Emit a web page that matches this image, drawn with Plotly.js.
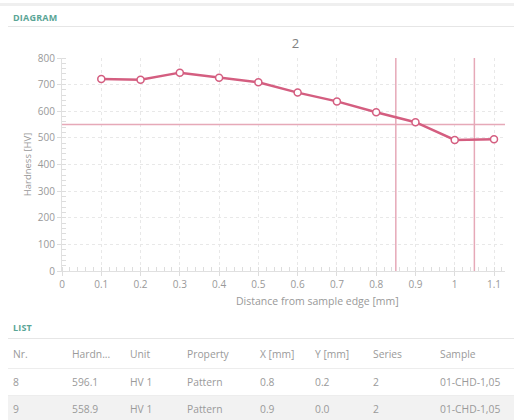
<!DOCTYPE html>
<html>
<head>
<meta charset="utf-8">
<script src="https://cdn.plot.ly/plotly-3.0.1.min.js"></script>
<style>
  html, body { margin: 0; padding: 0; background: #fff; width: 514px; height: 420px; overflow: hidden; font-family: "Open Sans", "Lato", sans-serif; }
  #chart { position: absolute; left: 0; top: 0; width: 514px; height: 420px; }
  .sec { position: absolute; left: 13px; font-size: 9px; font-weight: 700; color: #5aa596; letter-spacing: 0.2px; }
  .hr { position: absolute; left: 8px; right: 0; height: 1px; background: #e6e6e6; }
  table { position: absolute; left: 8px; top: 341px; width: 506px; border-collapse: collapse; font-size: 10.3px; color: #9a9a9a; table-layout: fixed; }
  td { box-sizing: border-box; height: 27px; padding: 0; white-space: nowrap; border-bottom: 1px solid #ededed; }
  td:first-child { padding-left: 5px; }
  tr.alt td { background: #f2f2f2; }
</style>
</head>
<body>
<div id="chart"></div>
<div class="hr" style="top:3px;height:3px;background:#efefef;left:0"></div>
<div class="sec" style="top:11px">DIAGRAM</div>
<div class="hr" style="top:26px"></div>
<div class="sec" style="top:321px">LIST</div>
<div class="hr" style="top:338px"></div>
<table id="tbl"></table>
<script>
const distance = [0.1, 0.2, 0.3, 0.4, 0.5, 0.6, 0.7, 0.8, 0.9, 1.0, 1.1];
const hardness = [721, 718, 745, 726, 709, 670, 637, 596.1, 558.9, 492, 495];
const limitHardness = 550;
const limitDistances = [0.85, 1.05];
const chartTitle = "2";
const xTitle = "Distance from sample edge [mm]";
const yTitle = "Hardness [HV]";
const tableHeader = ["Nr.", "Hardn...", "Unit", "Property", "X [mm]", "Y [mm]", "Series", "Sample"];
const tableRows = [
  ["8", "596.1", "HV 1", "Pattern", "0.8", "0.2", "2", "01-CHD-1,05"],
  ["9", "558.9", "HV 1", "Pattern", "0.9", "0.0", "2", "01-CHD-1,05"]
];
const colWidths = [64, 58, 57, 73, 55, 58, 67, 74];

const lineColor = "#d45e80";
const refColor = "#e6a9b8";
const xMax = 1.128, yMax = 800;

const traces = [
  { x: [0, xMax], y: [limitHardness, limitHardness], mode: "lines", line: { color: refColor, width: 1.5 }, hoverinfo: "skip", showlegend: false },
  ...limitDistances.map(d => ({ x: [d, d], y: [0, yMax], mode: "lines", line: { color: refColor, width: 1.5 }, hoverinfo: "skip", showlegend: false })),
  { x: distance, y: hardness, mode: "lines+markers", line: { color: lineColor, width: 2.5 },
    marker: { symbol: "circle", size: 7, color: "#fff", line: { color: lineColor, width: 1.5 } }, showlegend: false }
];

const layout = {
  width: 514, height: 420,
  margin: { l: 62, r: 9, t: 58, b: 149 },
  paper_bgcolor: "rgba(0,0,0,0)", plot_bgcolor: "#fff",
  font: { family: "'Open Sans', Lato, sans-serif", color: "#999", size: 10 },
  title: { text: chartTitle, x: 0.575, xanchor: "center", y: 1 - 43/420, yanchor: "middle", yref: "container", font: { size: 13, color: "#808080" } },
  xaxis: {
    range: [0, xMax], dtick: 0.1, tick0: 0, zeroline: false,
    showgrid: true, gridcolor: "#e8e8e8", griddash: "3px,3px", gridwidth: 1,
    showline: true, linecolor: "#e0e0e0", ticks: "outside", ticklen: 4, tickcolor: "#dddddd",
    minor: { dtick: 0.02, ticks: "inside", ticklen: 4, tickcolor: "#dddddd", showgrid: false },
    tickfont: { size: 10, color: "#999" }
  },
  yaxis: {
    range: [0, yMax], dtick: 100, zeroline: false,
    showgrid: true, gridcolor: "#e8e8e8", griddash: "3px,3px", gridwidth: 1,
    showline: true, linecolor: "#e0e0e0", ticks: "outside", ticklen: 4, tickcolor: "#dddddd",
    minor: { dtick: 20, ticks: "inside", ticklen: 4, tickcolor: "#dddddd", showgrid: false },
    tickfont: { size: 10, color: "#999" },
    title: { text: yTitle, standoff: 4, font: { size: 9.5, color: "#999" } }
  },
  annotations: [
    { text: xTitle, xref: "paper", yref: "paper", x: (317 - 62) / (514 - 71), y: (271 - 301) / 213, xanchor: "center", yanchor: "middle", showarrow: false, font: { size: 10.5, color: "#999" } }
  ]
};

Plotly.newPlot("chart", traces, layout, { displayModeBar: false, staticPlot: true });

const tbl = document.getElementById("tbl");
const mkRow = (cells, cls) => {
  const tr = document.createElement("tr");
  if (cls) tr.className = cls;
  cells.forEach((c, i) => { const td = document.createElement("td"); td.textContent = c; td.style.width = colWidths[i] + "px"; tr.appendChild(td); });
  tbl.appendChild(tr);
};
mkRow(tableHeader);
tableRows.forEach((r, i) => mkRow(r, i % 2 ? "alt" : ""));
</script>
</body>
</html>
